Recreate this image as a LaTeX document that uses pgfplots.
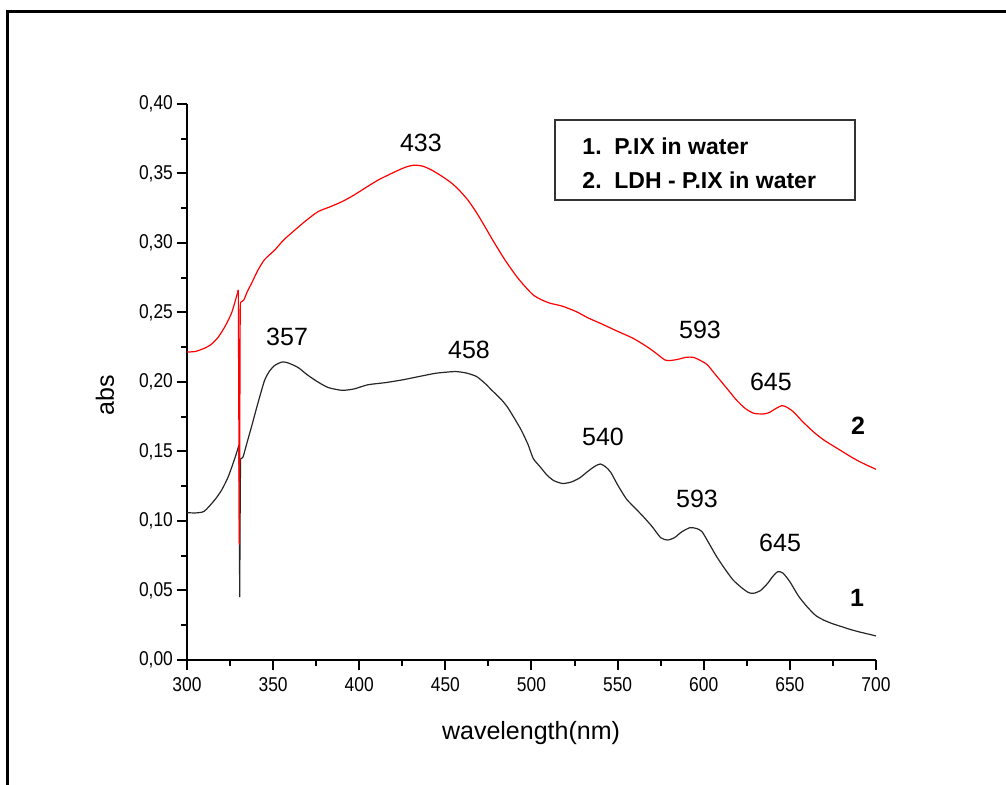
\documentclass[border=0pt]{standalone}
\usepackage{fontspec}
\setmainfont{Liberation Sans}
\newfontfamily\narrowfont[FakeStretch=0.87]{Liberation Sans}
\usepackage{pgfplots}
\pgfplotsset{compat=1.18}
\begin{document}
\begin{tikzpicture}
\begin{axis}[
  scale only axis,
  width=344.5pt, height=278pt,
  xmin=300, xmax=700, ymin=0, ymax=0.4,
  axis x line=bottom, axis y line=left,
  axis line style={-, line width=1pt},
  tick align=outside,
  major tick length=5pt, minor tick length=2.8pt,
  every tick/.style={black, line width=1pt},
  xtick={300,350,...,700}, minor xtick={325,375,...,675},
  ytick={0,0.05,...,0.41}, minor ytick={0.025,0.075,...,0.38},
  /pgf/number format/assume math mode=true,
  yticklabel style={xshift=1.5pt, /pgf/number format/.cd, use comma, fixed, fixed zerofill, precision=2},
  xticklabel style={/pgf/number format/.cd, fixed, precision=0, 1000 sep={}},
  ticklabel style={font=\narrowfont\fontsize{10}{11}\selectfont},
  xlabel={wavelength(nm)}, ylabel={abs},
  xlabel style={at={(axis description cs:0.4993,-0.131)}, anchor=center, font=\fontsize{12.5}{14}\selectfont},
  ylabel style={at={(axis description cs:-0.119,0.4766)}, anchor=center, rotate=0, font=\fontsize{12.5}{14}\selectfont},
  clip=false,
]
% series 1 (black)
\addplot[black!85, line width=0.6pt, smooth, tension=0.4] coordinates {
(300,0.106) (305,0.1058) (310,0.107) (316,0.115) (320,0.122) (324,0.132) (328,0.146)
(330.2,0.1547)
};
\addplot[black!85, line width=0.6pt] coordinates {
(330.2,0.1547) (330.6,0.0453) (330.9,0.115) (331.1,0.145)
};
\addplot[black!85, line width=0.6pt, smooth, tension=0.4] coordinates {
(331.1,0.145) (332.5,0.146) (335,0.157)
(337.5,0.168) (341,0.184) (345,0.201) (348,0.208) (351,0.212) (355,0.2143) (358,0.2140)
(362,0.212) (365,0.210) (370,0.205) (376,0.200) (382,0.196) (390,0.194) (397,0.195)
(405,0.198) (415,0.1995) (425,0.2015) (435,0.204) (444,0.2062) (450,0.207) (456,0.2075)
(462,0.2065) (468,0.204) (473,0.199) (477,0.194) (482,0.188) (486,0.182) (490,0.174)
(494,0.1655) (498,0.155) (501,0.145) (505,0.139) (509,0.133) (513,0.129) (518,0.127)
(523,0.128) (528,0.131) (533,0.136) (537,0.1395) (540,0.141) (543,0.139) (546,0.135)
(550,0.126) (555,0.116) (560,0.1095) (565,0.103) (570,0.096) (575,0.088) (579,0.0863)
(583,0.088) (587,0.092) (592,0.0952) (596,0.0945) (599,0.0923) (603,0.084) (607.5,0.0743)
(612,0.066) (617,0.0576) (622,0.052) (626,0.0485) (629,0.048) (633,0.050) (637,0.055)
(640,0.060) (643,0.0635) (646,0.0625) (650,0.0563) (655,0.046) (660,0.0383) (665,0.032)
(670,0.0285) (675,0.026) (680,0.024) (685,0.022) (690,0.0203) (695,0.0188) (700,0.0173)
};
% series 2 (red)
\addplot[red, line width=0.6pt, smooth, tension=0.4] coordinates {
(300,0.2215) (305,0.222) (310,0.2242) (314,0.227) (318,0.232) (322,0.2398) (326,0.250)
(329.8,0.2662)
};
\addplot[red, line width=0.6pt] coordinates {
(329.8,0.2662) (330.4,0.083) (330.9,0.255) (331.2,0.2575)
};
\addplot[red, line width=0.6pt, smooth, tension=0.4] coordinates {
(331.2,0.2575) (333,0.259) (335,0.265)
(337.5,0.271) (341,0.280) (345,0.288) (351,0.295) (356,0.302) (362.7,0.3094) (369,0.316)
(376,0.3225) (383,0.326) (390,0.3297) (397,0.3345) (404,0.340) (411,0.3453) (417,0.349)
(423,0.3525) (428,0.355) (432.4,0.356) (437,0.3552) (442,0.3525) (448,0.348) (453.7,0.343)
(458,0.338) (463,0.331) (468,0.322) (473,0.3117) (478,0.301) (484.6,0.2878) (491,0.2765)
(496,0.269) (501,0.2626) (506,0.259) (511,0.2566) (518,0.2545) (526,0.2506) (533,0.246)
(540,0.2422) (549,0.237) (559,0.2314) (567,0.2254) (572,0.221) (577.5,0.2158) (581,0.2155)
(585,0.2163) (590,0.2178) (594,0.2177) (598,0.2155) (602,0.2125) (606,0.2065) (610,0.2005)
(615,0.193) (619,0.187) (624,0.181) (629,0.1775) (634.6,0.177) (638,0.178) (642,0.181)
(645.3,0.183) (648,0.182) (652,0.1786) (657,0.172) (663.6,0.1642) (670,0.158) (679,0.1511)
(685,0.1465) (690,0.143) (695,0.140) (700,0.1372)
};
% peak labels
\begin{scope}[every node/.style={font=\fontsize{12.5}{14}\selectfont, anchor=center}]
\node at (axis cs:435.8,0.3719) {433};
\node at (axis cs:358.1,0.2324) {357};
\node at (axis cs:463.7,0.2230) {458};
\node at (axis cs:541.5,0.1604) {540};
\node at (axis cs:597.8,0.2374) {593};
\node at (axis cs:639.0,0.2000) {645};
\node at (axis cs:596.1,0.1158) {593};
\node at (axis cs:644.3,0.0842) {645};
\node[font=\bfseries\fontsize{12.5}{14}\selectfont] at (axis cs:689.6,0.1683) {2};
\node[font=\bfseries\fontsize{12.5}{14}\selectfont] at (axis cs:689.0,0.0446) {1};
\end{scope}
% legend box
\draw[black!80, line width=0.75pt] (axis cs:513.6,0.3309) rectangle (axis cs:687.8,0.3885);
\node[anchor=west, font=\bfseries\fontsize{11.5}{13}\selectfont] at (axis cs:525.5,0.3698) {1.\ \ P.IX in water};
\node[anchor=west, font=\bfseries\fontsize{11.5}{13}\selectfont] at (axis cs:525.5,0.3453) {2.\ \ LDH - P.IX in water};
% outer frame
\draw[line width=1.5pt] (axis cs:196.08,-0.0899) -- (axis cs:196.08,0.4662) -- (axis cs:775.47,0.4662);
\coordinate (BL) at (axis cs:191.44,-0.0899);
\coordinate (TR) at (axis cs:775.47,0.4748);
\end{axis}
\pgfresetboundingbox
\path[use as bounding box] (BL) rectangle (TR);
\end{tikzpicture}
\end{document}
